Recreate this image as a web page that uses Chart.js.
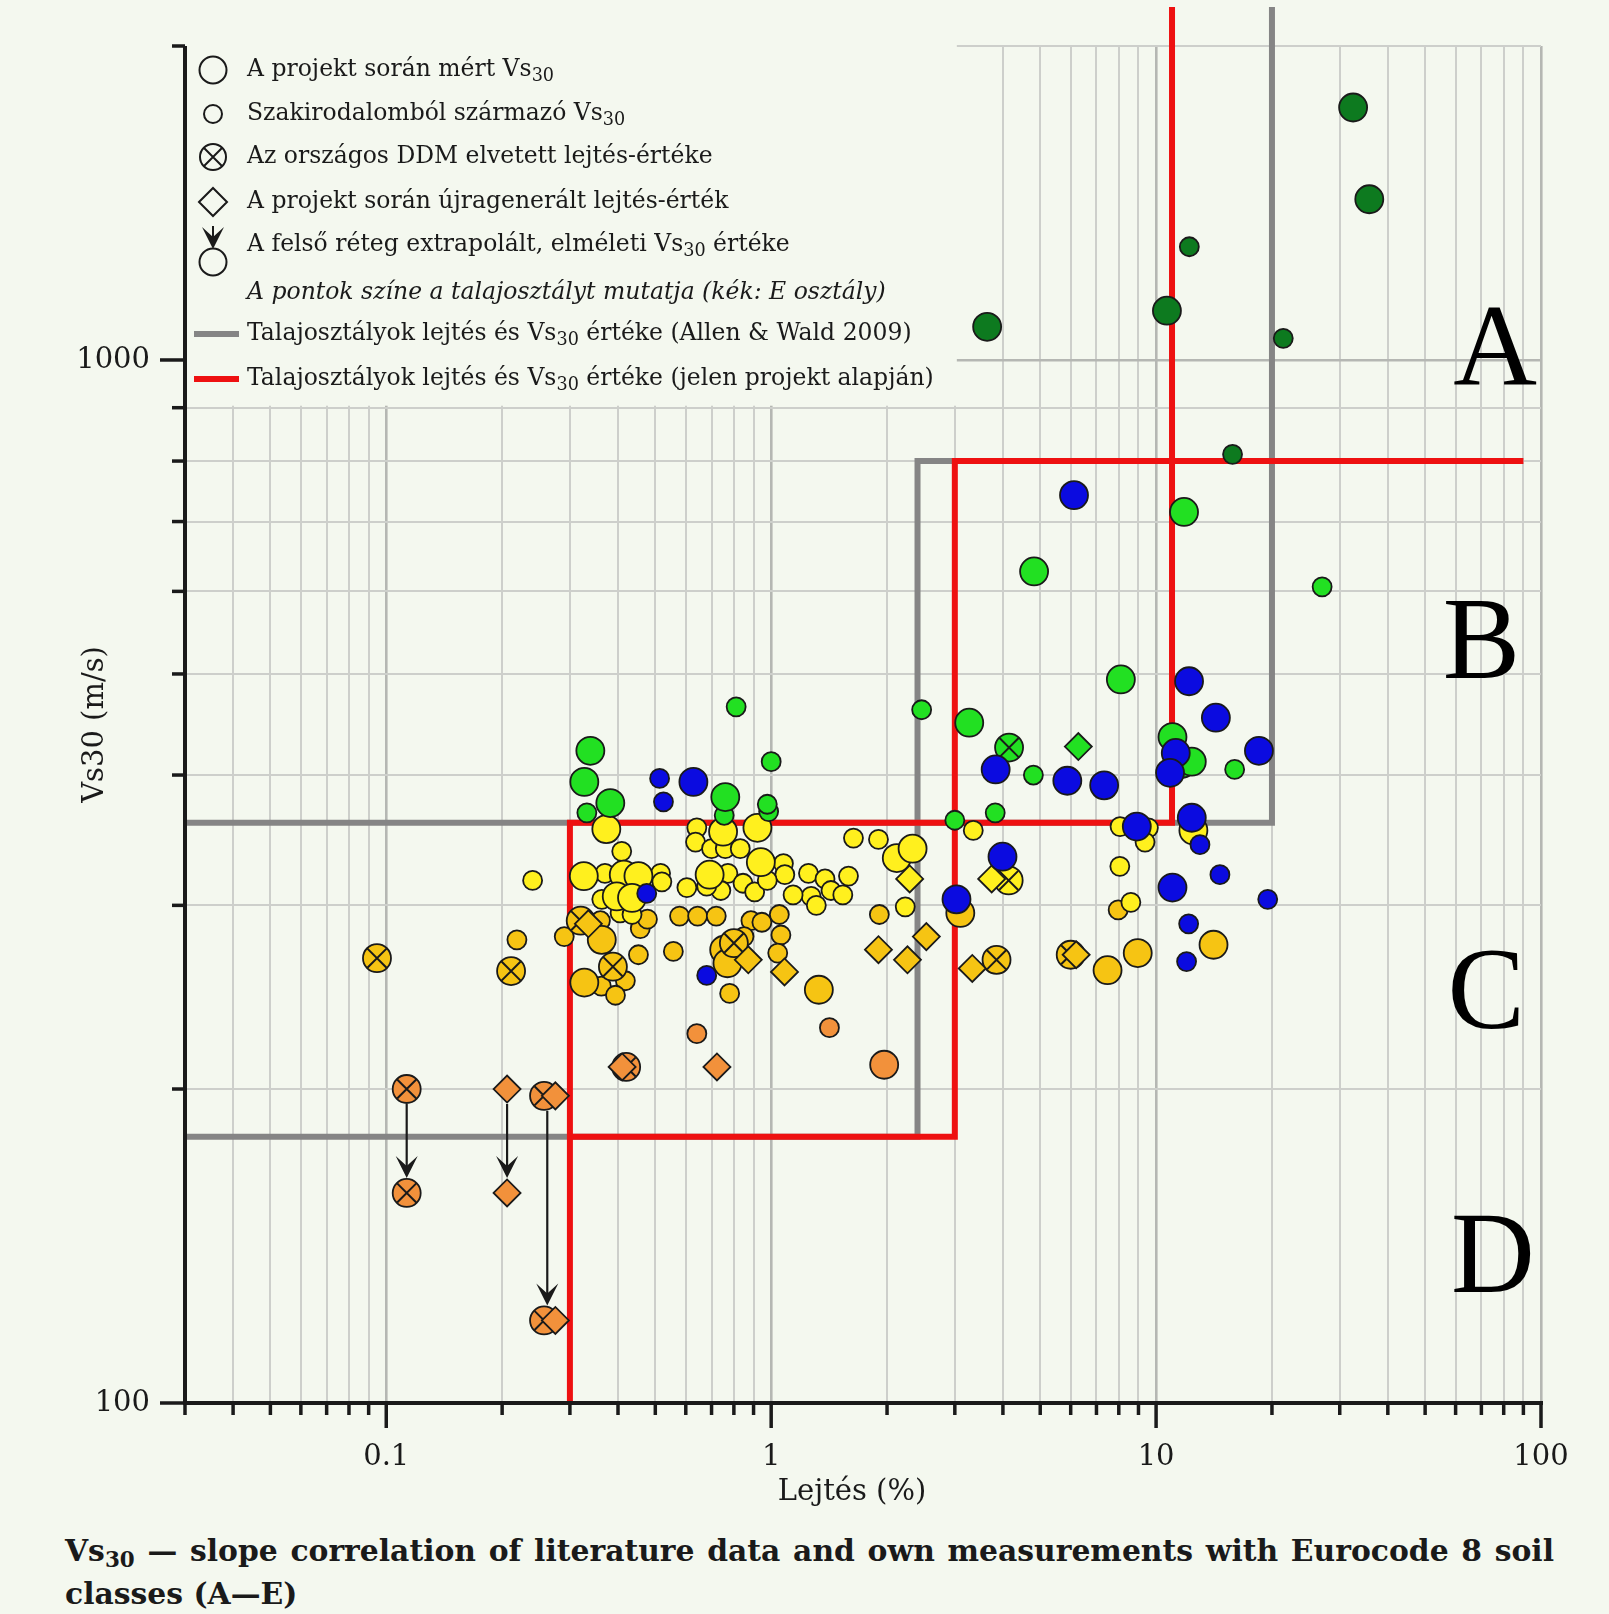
<!DOCTYPE html>
<html>
<head>
<meta charset="utf-8">
<script src="https://cdn.jsdelivr.net/npm/chart.js@4.4.1/dist/chart.umd.min.js"></script>
<style>
  html, body { margin: 0; padding: 0; background: #f4f8ef; }
  body { width: 1609px; height: 1614px; position: relative; overflow: hidden; }
  #chart { position: absolute; left: 0; top: 0; }
  #caption { position: absolute; left: 65px; top: 1529px; width: 1489px; font-family: "DejaVu Serif"; font-weight: bold; font-size: 30px; color: #1a1a1a; line-height: 43px; }
  #caption .l1 { text-align: justify; text-align-last: justify; white-space: nowrap; }
  #caption sub { font-size: 0.72em; vertical-align: -0.3em; line-height: 0; }
</style>
</head>
<body>
<canvas id="chart" width="1609" height="1520"></canvas>
<div id="caption"><div class="l1">Vs<sub>30</sub> — slope correlation of literature data and own measurements with Eurocode 8 soil</div><div>classes (A—E)</div></div>
<script>
// tengely-beosztások
const xGrid = [0.03, 0.04, 0.05, 0.06, 0.07, 0.08, 0.09,
  0.1, 0.2, 0.3, 0.4, 0.5, 0.6, 0.7, 0.8, 0.9,
  1, 2, 3, 4, 5, 6, 7, 8, 9,
  10, 20, 30, 40, 50, 60, 70, 80, 90, 100];
const xLabels = [0.1, 1, 10, 100];
const yGrid = [100, 200, 300, 400, 500, 600, 700, 800, 900, 1000, 2000];
const yLabels = [100, 1000];

// talajosztály-határok [lejtés %, Vs30]
const allenWald1 = [[0.03, 180], [2.4, 180], [2.4, 800], [11, 800]];
const allenWald2 = [[0.03, 360], [20, 360], [20, 2180]];
const sajat1 = [[0.3, 100], [0.3, 360], [11, 360], [11, 2180]];
const sajat2 = [[0.3, 180], [3, 180], [3, 800], [90, 800]];

// A osztály (sötétzöld)
const A_big = [[32.5, 1746], [35.8, 1426], [10.67, 1115], [3.64, 1076]];
const A_small = [[12.2, 1284], [21.4, 1049], [15.8, 812]];
// B osztály (zöld)
const B_big = [[0.339, 422], [0.327, 394], [0.382, 376], [0.76, 381], [3.27, 449], [4.82, 627], [11.82, 715], [8.1, 494], [11.03, 435], [11.66, 410], [12.38, 412]];
const B_small = [[0.811, 465], [0.332, 368], [0.755, 366], [2.46, 462], [1.0, 412], [0.985, 369], [0.977, 375], [4.8, 400], [3.0, 362], [3.82, 368], [16.0, 405], [27.0, 606]];
const B_cross = [[4.15, 425]];
const B_diamond = [[6.28, 426]];
// C osztály (sárga)
const C1_big = [[0.373, 355], [0.75, 353], [0.326, 320], [0.414, 321], [0.452, 320], [0.397, 306], [0.435, 305], [0.692, 321], [0.921, 356], [0.94, 330], [2.12, 333], [2.33, 340], [12.5, 354]];
const C1_small = [[0.24, 317], [0.641, 356], [0.636, 345], [0.7, 340], [0.76, 340], [0.831, 340], [0.409, 338], [0.37, 322], [0.516, 322], [0.52, 316], [0.363, 304], [0.604, 312], [0.772, 322], [0.74, 310], [0.845, 315], [0.68, 313], [0.405, 295], [0.435, 294], [1.636, 348], [1.9, 347], [2.23, 299], [1.076, 329], [1.085, 321], [1.25, 322], [1.38, 318], [1.588, 320], [1.43, 310], [1.535, 307], [1.27, 306], [1.31, 300], [1.14, 307], [0.906, 309], [0.977, 317], [3.35, 354], [8.06, 357], [9.55, 356], [9.36, 345], [8.05, 327], [8.6, 302]];
const C1_cross = [[4.14, 317]];
const C1_diamond = [[2.29, 318], [3.74, 318]];
// C osztály (aranysárga)
const C2_big = [[3.1, 295], [14.1, 275], [8.96, 270], [7.48, 260], [0.363, 278], [0.327, 253], [0.755, 272], [0.77, 264], [1.33, 249]];
const C2_small = [[0.2185, 278], [0.29, 280], [0.457, 285], [0.477, 291], [0.36, 290], [0.452, 269], [0.557, 271], [0.578, 293], [0.644, 293], [0.72, 293], [0.418, 254], [0.362, 251], [0.394, 246], [0.78, 247], [1.05, 294], [1.06, 281], [1.04, 270], [0.886, 290], [0.946, 289], [0.85, 280], [1.91, 294], [7.97, 297]];
const C2_cross = [[0.0946, 267], [0.211, 259.5], [0.388, 262], [0.8, 276], [3.85, 266], [6.0, 269], [0.32, 290]];
const C2_diamond = [[0.335, 288], [0.872, 266], [1.083, 259], [1.9, 272], [2.26, 266], [2.53, 280], [3.33, 261], [6.2, 269]];
// D osztály (narancs)
const D_big = [[1.966, 211]];
const D_small = [[0.641, 226], [1.417, 229]];
const D_cross = [[0.42, 210], [0.113, 200], [0.113, 159], [0.257, 197], [0.257, 120]];
const D_diamond = [[0.41, 210], [0.723, 210], [0.206, 200], [0.206, 159], [0.275, 197], [0.275, 120]];
// E osztály (kék)
const E_big = [[0.628, 394], [6.12, 742], [12.18, 492], [14.3, 454], [18.5, 422], [3.83, 405], [5.88, 395], [7.33, 391], [11.25, 420], [10.87, 402], [8.91, 357], [12.38, 364], [3.99, 334], [11.03, 312], [3.03, 304]];
const E_small = [[0.513, 397], [0.525, 377], [0.475, 308], [0.68, 257], [13.0, 343], [14.65, 321], [19.5, 304], [12.15, 288], [12.0, 265]];

// extrapolált értékek: [lejtés, mért Vs30, elméleti Vs30]
const arrows = [[0.113, 200, 159], [0.206, 200, 159], [0.262, 197, 120]];

const classLetters = ['A', 'B', 'C', 'D'];
const letterPos = [[76, 1020], [70, 535], [72, 247], [75, 138]];

const legendTexts = [
  'A projekt során mért Vs{30}',
  'Szakirodalomból származó Vs{30}',
  'Az országos DDM elvetett lejtés-értéke',
  'A projekt során újragenerált lejtés-érték',
  'A felső réteg extrapolált, elméleti Vs{30} értéke',
  'A pontok színe a talajosztályt mutatja (kék: E osztály)',
  'Talajosztályok lejtés és Vs{30} értéke (Allen & Wald 2009)',
  'Talajosztályok lejtés és Vs{30} értéke (jelen projekt alapján)'
];

const BG = '#f4f8ef';
const INK = '#1a1a1a';
const colors = { A: '#0d7a1f', B: '#22e022', C1: '#fff01e', C2: '#f6c413', D: '#f2913b', E: '#0b0be0' };
const SERIF = '"DejaVu Serif", serif';

const layers = [
  [D_small, 'D', 'small'], [D_big, 'D', 'big'], [D_cross, 'D', 'cross'], [D_diamond, 'D', 'diamond'],
  [C2_small, 'C2', 'small'], [C2_big, 'C2', 'big'], [C2_cross, 'C2', 'cross'], [C2_diamond, 'C2', 'diamond'],
  [C1_small, 'C1', 'small'], [C1_big, 'C1', 'big'], [C1_cross, 'C1', 'cross'], [C1_diamond, 'C1', 'diamond'],
  [A_small, 'A', 'small'], [A_big, 'A', 'big'],
  [B_small, 'B', 'small'], [B_big, 'B', 'big'], [B_cross, 'B', 'cross'], [B_diamond, 'B', 'diamond'],
  [E_small, 'E', 'small'], [E_big, 'E', 'big']
];

const toXY = arr => arr.map(p => ({ x: p[0], y: p[1] }));

const datasets = [];
function lineSet(arr, color, w) {
  datasets.push({ data: toXY(arr), showLine: true, borderColor: color, borderWidth: w, pointRadius: 0,
    clip: false, fill: false, tension: 0, borderCapStyle: 'butt', borderJoinStyle: 'miter' });
}
lineSet(allenWald1, '#858585', 6);
lineSet(allenWald2, '#858585', 6);
lineSet(sajat1, '#ee1111', 6);
lineSet(sajat2, '#ee1111', 6);

layers.forEach(([arr, cls, kind]) => {
  const r = kind === 'small' ? 9.5 : (kind === 'diamond' ? 13.5 : 14);
  datasets.push({
    data: toXY(arr), showLine: false, clip: false,
    pointStyle: kind === 'diamond' ? 'rectRot' : 'circle',
    pointRadius: r, pointBackgroundColor: colors[cls],
    pointBorderColor: INK, pointBorderWidth: 1.8
  });
  if (kind === 'cross') {
    datasets.push({
      data: toXY(arr), showLine: false, clip: false, pointStyle: 'crossRot',
      pointRadius: r - 0.5, pointBackgroundColor: 'rgba(0,0,0,0)',
      pointBorderColor: INK, pointBorderWidth: 2
    });
  }
});
datasets.forEach((d, i) => { d.order = datasets.length - i; });

function richText(ctx, str, x, y, size, style) {
  const parts = str.split(/\{(\d+)\}/);
  let cx = x;
  parts.forEach((p, i) => {
    const sub = i % 2 === 1;
    const fs = sub ? size * 0.75 : size;
    ctx.font = (style || '') + ' ' + fs + 'px ' + SERIF;
    ctx.fillText(p, cx, sub ? y + size * 0.28 : y);
    cx += ctx.measureText(p).width;
  });
}

function arrowHead(ctx, x, tip) {
  ctx.beginPath();
  ctx.moveTo(x, tip);
  ctx.lineTo(x - 11, tip - 22);
  ctx.lineTo(x, tip - 12);
  ctx.lineTo(x + 11, tip - 22);
  ctx.closePath();
  ctx.fill();
}

const decor = {
  id: 'decor',
  beforeDatasetsDraw(chart) {
    // jelmagyarázat háttere eltakarja a rácsot
    const { ctx, chartArea: a, scales: { x, y } } = chart;
    const r = x.getPixelForValue(3) + 2;
    const b = y.getPixelForValue(900) - 2;
    ctx.save();
    ctx.fillStyle = BG;
    ctx.fillRect(a.left - 1, a.top - 4, r - a.left + 1, b - a.top + 4);
    ctx.restore();
  },
  afterDatasetsDraw(chart) {
    const { ctx, chartArea: a, scales: { x, y } } = chart;
    ctx.save();
    ctx.strokeStyle = INK;
    ctx.fillStyle = INK;

    // nyilak
    arrows.forEach(([v, from, to]) => {
      const px = x.getPixelForValue(v);
      const y0 = y.getPixelForValue(from) + 15;
      const y1 = y.getPixelForValue(to) - 15;
      ctx.lineWidth = 2.2;
      ctx.beginPath(); ctx.moveTo(px, y0); ctx.lineTo(px, y1 - 10); ctx.stroke();
      arrowHead(ctx, px, y1);
    });

    // tengelyek
    ctx.lineWidth = 4;
    ctx.beginPath(); ctx.moveTo(a.left - 2, a.bottom); ctx.lineTo(a.right + 2, a.bottom); ctx.stroke();
    ctx.beginPath(); ctx.moveTo(a.left, a.top); ctx.lineTo(a.left, a.bottom + 2); ctx.stroke();
    ctx.lineWidth = 3.5;
    xGrid.forEach(v => {
      const px = x.getPixelForValue(v);
      const len = xLabels.includes(v) ? 25 : 12;
      ctx.beginPath(); ctx.moveTo(px, a.bottom); ctx.lineTo(px, a.bottom + len); ctx.stroke();
    });
    yGrid.forEach(v => {
      const py = y.getPixelForValue(v);
      const len = yLabels.includes(v) ? 25 : 13;
      ctx.beginPath(); ctx.moveTo(a.left, py); ctx.lineTo(a.left - len, py); ctx.stroke();
    });

    ctx.font = '29px ' + SERIF;
    ctx.textBaseline = 'middle';
    ctx.textAlign = 'center';
    xLabels.forEach(v => ctx.fillText(String(v), x.getPixelForValue(v), a.bottom + 54));
    ctx.textAlign = 'right';
    yLabels.forEach(v => ctx.fillText(String(v), a.left - 35, y.getPixelForValue(v)));

    ctx.textAlign = 'center';
    ctx.fillText('Lejtés (%)', 852, a.bottom + 89);
    ctx.save();
    ctx.translate(95, (a.top + a.bottom) / 2);
    ctx.rotate(-Math.PI / 2);
    ctx.fillText('Vs30 (m/s)', 0, 0);
    ctx.restore();

    // osztálybetűk
    ctx.font = '116px "Liberation Serif", serif';
    ctx.fillStyle = '#000';
    classLetters.forEach((t, i) => {
      ctx.fillText(t, x.getPixelForValue(letterPos[i][0]), y.getPixelForValue(letterPos[i][1]) + 4);
    });

    // jelmagyarázat
    const mx = a.left + 28;
    const tx = a.left + 62;
    const rows = [70, 114, 157, 202, 245, 293, 334, 379];
    ctx.strokeStyle = INK;
    ctx.fillStyle = INK;
    ctx.lineWidth = 2;
    ctx.beginPath(); ctx.arc(mx, rows[0], 13.5, 0, Math.PI * 2); ctx.stroke();
    ctx.beginPath(); ctx.arc(mx, rows[1], 9, 0, Math.PI * 2); ctx.stroke();
    ctx.beginPath(); ctx.arc(mx, rows[2], 13, 0, Math.PI * 2); ctx.stroke();
    const d = 13 * Math.SQRT1_2;
    ctx.beginPath();
    ctx.moveTo(mx - d, rows[2] - d); ctx.lineTo(mx + d, rows[2] + d);
    ctx.moveTo(mx + d, rows[2] - d); ctx.lineTo(mx - d, rows[2] + d);
    ctx.stroke();
    ctx.beginPath();
    ctx.moveTo(mx - 14, rows[3]); ctx.lineTo(mx, rows[3] - 14); ctx.lineTo(mx + 14, rows[3]); ctx.lineTo(mx, rows[3] + 14);
    ctx.closePath(); ctx.stroke();
    ctx.beginPath(); ctx.moveTo(mx, 226); ctx.lineTo(mx, 240); ctx.stroke();
    arrowHead(ctx, mx, 249);
    ctx.beginPath(); ctx.arc(mx, 262, 13.5, 0, Math.PI * 2); ctx.stroke();
    ctx.lineWidth = 6;
    ctx.strokeStyle = '#858585';
    ctx.beginPath(); ctx.moveTo(a.left + 9, rows[6]); ctx.lineTo(a.left + 54, rows[6]); ctx.stroke();
    ctx.strokeStyle = '#ee1111';
    ctx.beginPath(); ctx.moveTo(a.left + 9, rows[7]); ctx.lineTo(a.left + 54, rows[7]); ctx.stroke();

    ctx.textAlign = 'left';
    ctx.textBaseline = 'middle';
    ctx.fillStyle = INK;
    legendTexts.forEach((t, i) => richText(ctx, t, tx, rows[i], 23.5, i === 5 ? 'italic' : ''));
    ctx.restore();
  }
};

function gridColor(c) {
  const v = c.tick && c.tick.value;
  return (xLabels.includes(v) || yLabels.includes(v)) ? '#b5b7b3' : '#cdcfcb';
}
function gridWidth(c) {
  const v = c.tick && c.tick.value;
  return (xLabels.includes(v) || yLabels.includes(v)) ? 2.6 : 2;
}

new Chart(document.getElementById('chart'), {
  type: 'scatter',
  data: { datasets },
  options: {
    responsive: false,
    maintainAspectRatio: false,
    animation: false,
    events: [],
    layout: { padding: { left: 185, right: 68, top: 46, bottom: 117 } },
    plugins: { legend: { display: false }, tooltip: { enabled: false }, title: { display: false } },
    scales: {
      x: {
        type: 'logarithmic', min: 0.03, max: 100,
        afterBuildTicks: s => { s.ticks = xGrid.map(v => ({ value: v })); },
        grid: { color: gridColor, lineWidth: gridWidth, drawTicks: false },
        border: { display: false },
        ticks: { display: false }
      },
      y: {
        type: 'logarithmic', min: 100, max: 2000,
        afterBuildTicks: s => { s.ticks = yGrid.map(v => ({ value: v })); },
        grid: { color: gridColor, lineWidth: gridWidth, drawTicks: false },
        border: { display: false },
        ticks: { display: false }
      }
    }
  },
  plugins: [decor]
});

// felirat első sorának kiegyenlítése
const cap = document.querySelector('#caption');
const mctx = document.createElement('canvas').getContext('2d');
mctx.font = 'bold 30px "DejaVu Serif"';
const w = mctx.measureText('Vs30 — slope correlation of literature data and own measurements with Eurocode 8 soil').width;
if (w > 1470) cap.style.fontSize = (30 * 1470 / w).toFixed(1) + 'px';
</script>
</body>
</html>
